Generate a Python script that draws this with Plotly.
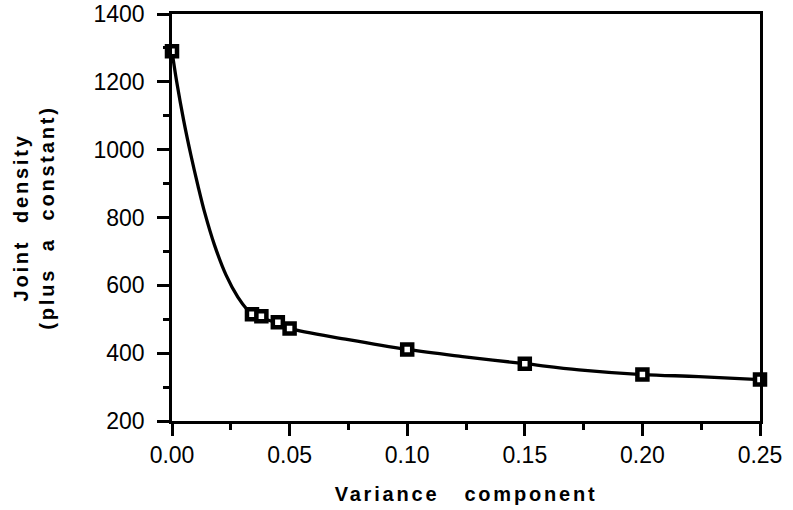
import plotly.graph_objects as go

# Observed points (markers)
point_x = [0.0, 0.034, 0.038, 0.045, 0.05, 0.10, 0.15, 0.20, 0.25]
point_y = [1290, 515, 509, 491, 473, 411, 369, 337, 322]

# Smooth fitted curve
curve_x = [0.0, 0.002, 0.005, 0.008, 0.011, 0.014, 0.018, 0.023, 0.028, 0.032, 0.034,
           0.045, 0.05, 0.075, 0.10, 0.1235, 0.15, 0.173, 0.20, 0.224, 0.25]
curve_y = [1290, 1200, 1085, 985, 895, 812, 720, 630, 565, 528, 515,
           488, 473, 440, 411, 390, 369, 351, 337, 331, 322]

x_ticks = [0.0, 0.05, 0.10, 0.15, 0.20, 0.25]
y_ticks = [200, 400, 600, 800, 1000, 1200, 1400]

x_title = "Variance&nbsp;&nbsp;&nbsp;component"
y_title_1 = "Joint&nbsp;&nbsp;density"
y_title_2 = "(plus&nbsp;&nbsp;a&nbsp;&nbsp;constant)"

fig = go.Figure()
fig.add_trace(go.Scatter(
    x=curve_x, y=curve_y, mode="lines",
    line=dict(color="black", width=3.3, shape="spline", smoothing=1.0),
    hoverinfo="skip", showlegend=False, cliponaxis=False))
fig.add_trace(go.Scatter(
    x=point_x, y=point_y, mode="markers",
    marker=dict(symbol="square", size=10, color="white",
                line=dict(color="black", width=4.5)),
    showlegend=False, cliponaxis=False))

sp = '<span style="letter-spacing:2.8px">'
font_family = "Liberation Sans, Arial, Helvetica, sans-serif"
fig.update_layout(
    width=793, height=510,
    margin=dict(l=172, r=33, t=14, b=89, autoexpand=False),
    paper_bgcolor="white", plot_bgcolor="white",
    font=dict(family=font_family, color="black", size=23),
    xaxis=dict(
        range=[0, 0.25], tickvals=x_ticks, tickformat=".2f", automargin=False,
        showline=True, linecolor="black", linewidth=2.5, mirror=True,
        ticks="outside", ticklen=12, tickwidth=2.5, tickcolor="black",
        minor=dict(dtick=0.025, ticks="outside", ticklen=6, tickwidth=2.5, tickcolor="black"),
        showgrid=False, zeroline=False,
        tickfont=dict(size=23), ticklabelstandoff=0,
        title=dict(text="<b>" + sp + x_title + "</span></b>",
                   font=dict(size=20), standoff=20),
    ),
    yaxis=dict(
        range=[200, 1400], tickvals=y_ticks, automargin=False,
        showline=True, linecolor="black", linewidth=2.5, mirror=True,
        ticks="outside", ticklen=12, tickwidth=2.5, tickcolor="black",
        minor=dict(dtick=100, ticks="outside", ticklen=6, tickwidth=2.5, tickcolor="black"),
        showgrid=False, zeroline=False,
        tickfont=dict(size=23), ticklabelstandoff=8,
        title=dict(text="<b>" + sp + y_title_1 + "</span></b><br><b>" + sp + y_title_2 + "</span></b>",
                   font=dict(size=20), standoff=34),
    ),
)

fig.write_html("out.html", config={"displayModeBar": False},
               post_script="document.body.style.margin='0';document.body.style.padding='0';")
